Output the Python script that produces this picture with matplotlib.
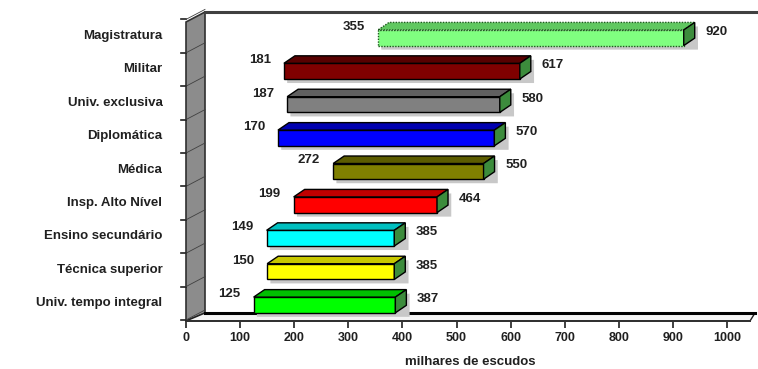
import matplotlib
matplotlib.use("Agg")
import matplotlib.pyplot as plt
from matplotlib.patches import Polygon

plt.rcParams['font.family'] = ['Liberation Sans', 'DejaVu Sans']

# Salary ranges by career (thousands of escudos), top to bottom
categories = ["Magistratura", "Militar", "Univ. exclusiva", "Diplomática", "Médica",
              "Insp. Alto Nível", "Ensino secundário", "Técnica superior",
              "Univ. tempo integral"]
min_vals = [355, 181, 187, 170, 272, 199, 149, 150, 125]
max_vals = [920, 617, 580, 570, 550, 464, 385, 385, 387]
front_colors = ["#80ff80", "#800000", "#808080", "#0000ff", "#808000",
                "#ff0000", "#00ffff", "#ffff00", "#00ff00"]
top_colors = ["#60c860", "#580000", "#606060", "#0000b0", "#5c5c00",
              "#c00000", "#00c0c0", "#c8c800", "#00c000"]
side_color = "#3c8c3c"
xticks = [0, 100, 200, 300, 400, 500, 600, 700, 800, 900, 1000]
xlabel = "milhares de escudos"

W, H = 758, 369
fig = plt.figure(figsize=(W / 100, H / 100), dpi=100)
ax = fig.add_axes([186 / W, (H - 322) / H, 569 / W, 310 / H])
px_x = 0.541   # pixels per x unit
px_y = 33.4    # pixels per category
xmax = 569 / px_x
ymax = 310 / px_y
ax.set_xlim(0, xmax)
ax.set_ylim(0, ymax)
for s in ax.spines.values():
    s.set_visible(False)

dx = 11 / px_x     # depth offset along x
dy = 7.5 / px_y    # depth offset along y
hh = 0.235         # half height of bar front face

def px2x(p):
    return (p - 186) / px_x

def px2y(p):
    return (322 - p) / px_y

# left wall
wall = Polygon([(px2x(186), px2y(321)), (px2x(186), px2y(22)),
                (px2x(205), px2y(12)), (px2x(205), px2y(313))],
               closed=True, facecolor="#8c8c8c", edgecolor="#303030", lw=1.2,
               clip_on=False, zorder=1)
ax.add_patch(wall)
# floor
floor = Polygon([(px2x(186), px2y(321)), (px2x(205), px2y(313)),
                 (px2x(755), px2y(313)), (px2x(750), px2y(321))],
                closed=True, facecolor="#f4f4f4", edgecolor="#202020", lw=1.0,
                clip_on=False, zorder=1)
ax.add_patch(floor)
ax.plot([px2x(205), px2x(755)], [px2y(313), px2y(313)], color="black", lw=2.2,
        clip_on=False, zorder=2)
ax.plot([px2x(186), px2x(750)], [px2y(321), px2y(321)], color="#303030", lw=1.4,
        clip_on=False, zorder=2)
# top edge of back wall
ax.plot([px2x(205), px2x(758)], [px2y(12), px2y(12)], color="#404040", lw=2.2,
        clip_on=False, zorder=2)

n = len(categories)
centers = [0.51 + (n - 1 - i) for i in range(n)]

# wall grid ticks between categories
for k in range(n + 1):
    yb = 0.51 + k - 0.5 + 0.05
    ax.plot([px2x(181), px2x(186)], [yb, yb], color="#202020", lw=1.2,
            clip_on=False, zorder=2)
    ax.plot([px2x(186), px2x(205)], [yb, yb + 10 / px_y], color="#404040",
            lw=0.6, clip_on=False, zorder=2)

for i in range(n):
    lo, hi, yc = min_vals[i], max_vals[i], centers[i]
    y0, y1 = yc - hh, yc + hh
    ls = (0, (1, 1)) if i == 0 else "solid"
    ec = "#1e5a1e" if i == 0 else "black"
    # soft shadow
    sh = Polygon([(lo + 6, y0 - 0.12), (hi + dx + 6, y0 - 0.12),
                  (hi + dx + 6, y1 + dy - 0.12), (lo + 6, y1 - 0.12)],
                 closed=True, facecolor="#c8c8c8", edgecolor="none", zorder=3,
                 clip_on=False)
    ax.add_patch(sh)
    front = Polygon([(lo, y0), (hi, y0), (hi, y1), (lo, y1)], closed=True,
                    facecolor=front_colors[i], edgecolor=ec, lw=1.0,
                    linestyle=ls, zorder=4, clip_on=False)
    top = Polygon([(lo, y1), (hi, y1), (hi + dx, y1 + dy), (lo + dx, y1 + dy)],
                  closed=True, facecolor=top_colors[i], edgecolor=ec, lw=1.0,
                  linestyle=ls, zorder=4, clip_on=False)
    side = Polygon([(hi, y0), (hi + dx, y0 + dy), (hi + dx, y1 + dy), (hi, y1)],
                   closed=True, facecolor=side_color, edgecolor="black", lw=1.0,
                   zorder=4, clip_on=False)
    for p in (front, top, side):
        ax.add_patch(p)
    ax.text(lo - 24, yc + 0.33, str(lo), ha="right", va="center",
            fontsize=9.5, fontweight="bold", color="#202020", zorder=5)
    ax.text(hi + 40, yc + 0.18, str(hi), ha="left", va="center",
            fontsize=9.5, fontweight="bold", color="#202020", zorder=5)

ax.set_yticks([c + 0.1 for c in centers])
ax.set_yticklabels(categories, fontsize=9.5, fontweight="bold", color="#202020")
ax.tick_params(axis="y", length=0, pad=17)
ax.set_xticks(xticks)
ax.set_xticklabels([str(t) for t in xticks], fontsize=9, fontweight="bold",
                   color="#202020")
ax.tick_params(axis="x", length=4, width=1.2, color="#202020", pad=3)
ax.set_xlabel(xlabel, fontsize=9.5, fontweight="bold", color="#202020", labelpad=9)

fig.savefig("out.png", dpi=100)
